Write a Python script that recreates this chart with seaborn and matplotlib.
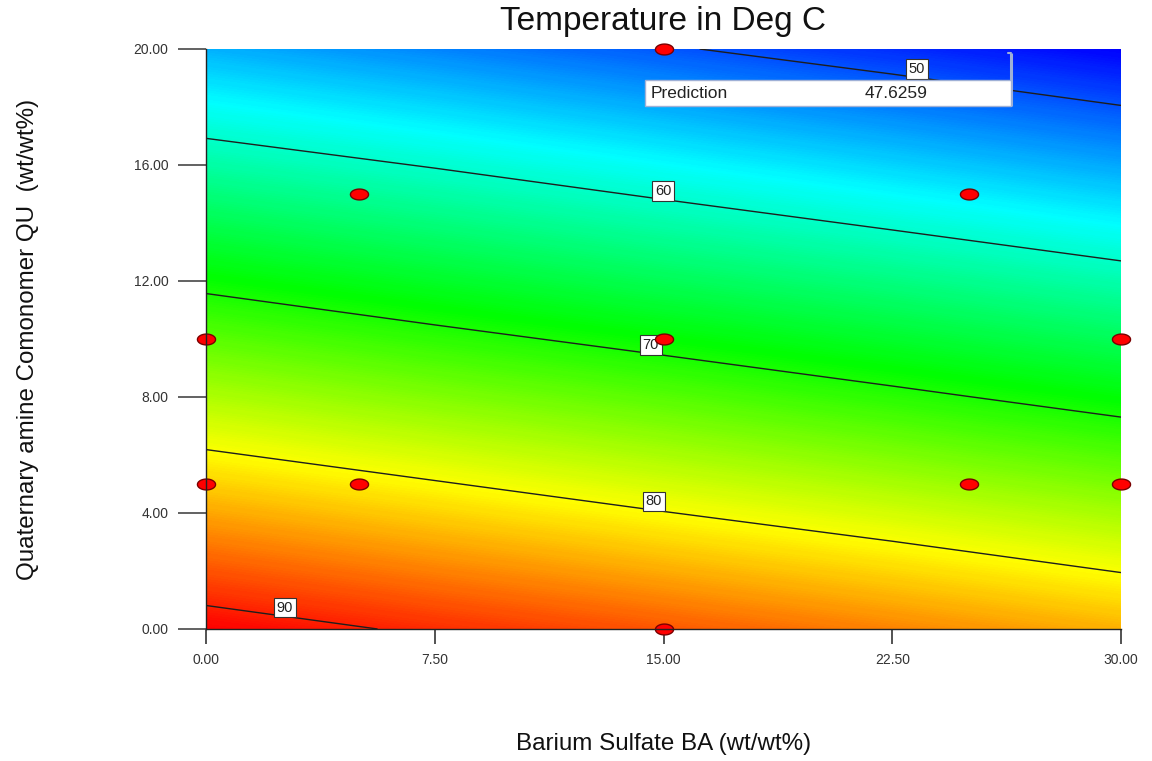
import numpy as np
import pandas as pd
import matplotlib
matplotlib.use("Agg")
import matplotlib.pyplot as plt
import seaborn as sns
from matplotlib.colors import LinearSegmentedColormap
from matplotlib.path import Path
from matplotlib.patches import Rectangle

# ---------------- data ----------------
ba_levels = [0.0, 7.5, 15.0, 22.5, 30.0]          # Barium Sulfate BA (wt/wt%)
qu_levels = [0.0, 4.0, 8.0, 12.0, 16.0, 20.0]     # Quaternary amine Comonomer QU (wt/wt%)
temp_qu0 = [91.5, 89.5, 87.6, 85.6, 83.6]
temp_qu4 = [84.1, 82.1, 80.1, 78.2, 76.2]
temp_qu8 = [76.6, 74.6, 72.7, 70.7, 68.7]
temp_qu12 = [69.2, 67.2, 65.2, 63.3, 61.3]
temp_qu16 = [61.7, 59.8, 57.8, 55.8, 53.8]
temp_qu20 = [54.3, 52.3, 50.3, 48.4, 46.4]

contour_levels = [50, 60, 70, 80, 90]

design_ba = [15, 5, 25, 0, 15, 30, 0, 5, 25, 30, 15]
design_qu = [20, 15, 15, 10, 10, 10, 5, 5, 5, 5, 0]

pred_ba = 26.4
pred_qu = 19.86
pred_value = 47.6259

x_ticks = [0.0, 7.5, 15.0, 22.5, 30.0]
y_ticks = [0.0, 4.0, 8.0, 12.0, 16.0, 20.0]

title = "Temperature in Deg C"
xlabel = "Barium Sulfate BA (wt/wt%)"
ylabel = "Quaternary amine Comonomer QU  (wt/wt%)"

# ---------------- build table ----------------
rows = [temp_qu0, temp_qu4, temp_qu8, temp_qu12, temp_qu16, temp_qu20]
records = []
for q, row in zip(qu_levels, rows):
    for b, t in zip(ba_levels, row):
        records.append({"BA": b, "QU": q, "T": t})
df = pd.DataFrame(records)
grid = df.pivot(index="QU", columns="BA", values="T")
X, Y = np.meshgrid(grid.columns.values, grid.index.values)
Z = grid.values

# ---------------- style ----------------
sns.set_style("white")
plt.rcParams["font.family"] = ["Liberation Sans", "DejaVu Sans"]

fig = plt.figure(figsize=(11.52, 7.61), dpi=100)
ax = fig.add_axes([206 / 1152, 1 - 629 / 761, 915 / 1152, 580 / 761])

cmap = LinearSegmentedColormap.from_list(
    "de", ["#0000ff", "#00ffff", "#00ff00", "#ffff00", "#ff0000"])
vmin, vmax = Z.min(), Z.max()
ax.contourf(X, Y, Z, levels=np.linspace(vmin, vmax, 300), cmap=cmap,
            vmin=vmin, vmax=vmax, antialiased=False, zorder=1)

cs = ax.contour(X, Y, Z, levels=contour_levels, colors="#1e1e1e",
                linewidths=1.0, zorder=2)
label_pos = [(23.3, 19.0), (15.0, 14.9), (14.6, 9.6), (14.7, 4.2), (2.6, 0.6)]
texts = ax.clabel(cs, fmt="%d", manual=label_pos, inline=False, fontsize=10.5,
                  colors="#222222", zorder=3)
for t in texts:
    t.set_rotation(0)
    t.set_zorder(3)
    x0, y0 = t.get_position()
    t.set_position((x0, y0 + 0.3))
    t.set_bbox(dict(boxstyle="square,pad=0.2", facecolor="white",
                    edgecolor="#333333", linewidth=0.8))

# design points
theta = np.linspace(0, 2 * np.pi, 60)
ell = Path(np.column_stack([np.cos(theta), 0.6 * np.sin(theta)]))
pts = pd.DataFrame({"BA": design_ba, "QU": design_qu})
sns.scatterplot(data=pts, x="BA", y="QU", marker=ell, s=170, color="#ff0000",
                edgecolor="#7a0000", linewidth=1.0, zorder=6, clip_on=False,
                ax=ax, legend=False)

# prediction flag
box_left, box_bottom, box_top = 14.39, 18.03, 18.93
ax.plot([pred_ba, pred_ba], [pred_qu, box_bottom], color="#9fb0d6", lw=2.2,
        zorder=4, solid_capstyle="butt")
ax.plot([pred_ba - 0.12, pred_ba], [pred_qu, pred_qu], color="#9fb0d6", lw=1.5,
        zorder=4)
ax.add_patch(Rectangle((box_left, box_bottom), pred_ba - box_left,
                       box_top - box_bottom, facecolor="white",
                       edgecolor="#9fb0d6", lw=1.0, zorder=5))
ymid = (box_bottom + box_top) / 2
ax.text(box_left + 0.2, ymid, "Prediction", fontsize=12.5, color="#222222",
        va="center", ha="left", zorder=6)
ax.text(box_left + 9.28, ymid, f"{pred_value:.4f}", fontsize=12.5,
        color="#222222", va="center", ha="right", zorder=6)

# axes
ax.set_xlim(0, 30)
ax.set_ylim(0, 20)
ax.set_xticks(x_ticks)
ax.set_yticks(y_ticks)
ax.set_xticklabels([f"{v:.2f}" for v in x_ticks])
ax.set_yticklabels([f"{v:.2f}" for v in y_ticks])
ax.tick_params(axis="x", length=11, width=1.3, color="#444444", pad=6.5,
               labelsize=10, labelcolor="#333333", bottom=True)
ax.tick_params(axis="y", length=20, width=1.3, color="#555555", pad=7,
               labelsize=10, labelcolor="#333333", left=True)
for side in ["top", "right"]:
    ax.spines[side].set_visible(False)
for side in ["left", "bottom"]:
    ax.spines[side].set_color("#222222")
    ax.spines[side].set_linewidth(1.0)
    ax.spines[side].set_zorder(7)

ax.set_title(title, fontsize=24, pad=14, color="#111111")
ax.set_xlabel(xlabel, fontsize=17.4, color="#111111")
ax.set_ylabel(ylabel, fontsize=17.4, color="#111111")
ax.xaxis.set_label_coords(0.5, -0.18)
ax.yaxis.set_label_coords(-0.183, 0.5)

fig.savefig("out.png", dpi=100, facecolor="white")
